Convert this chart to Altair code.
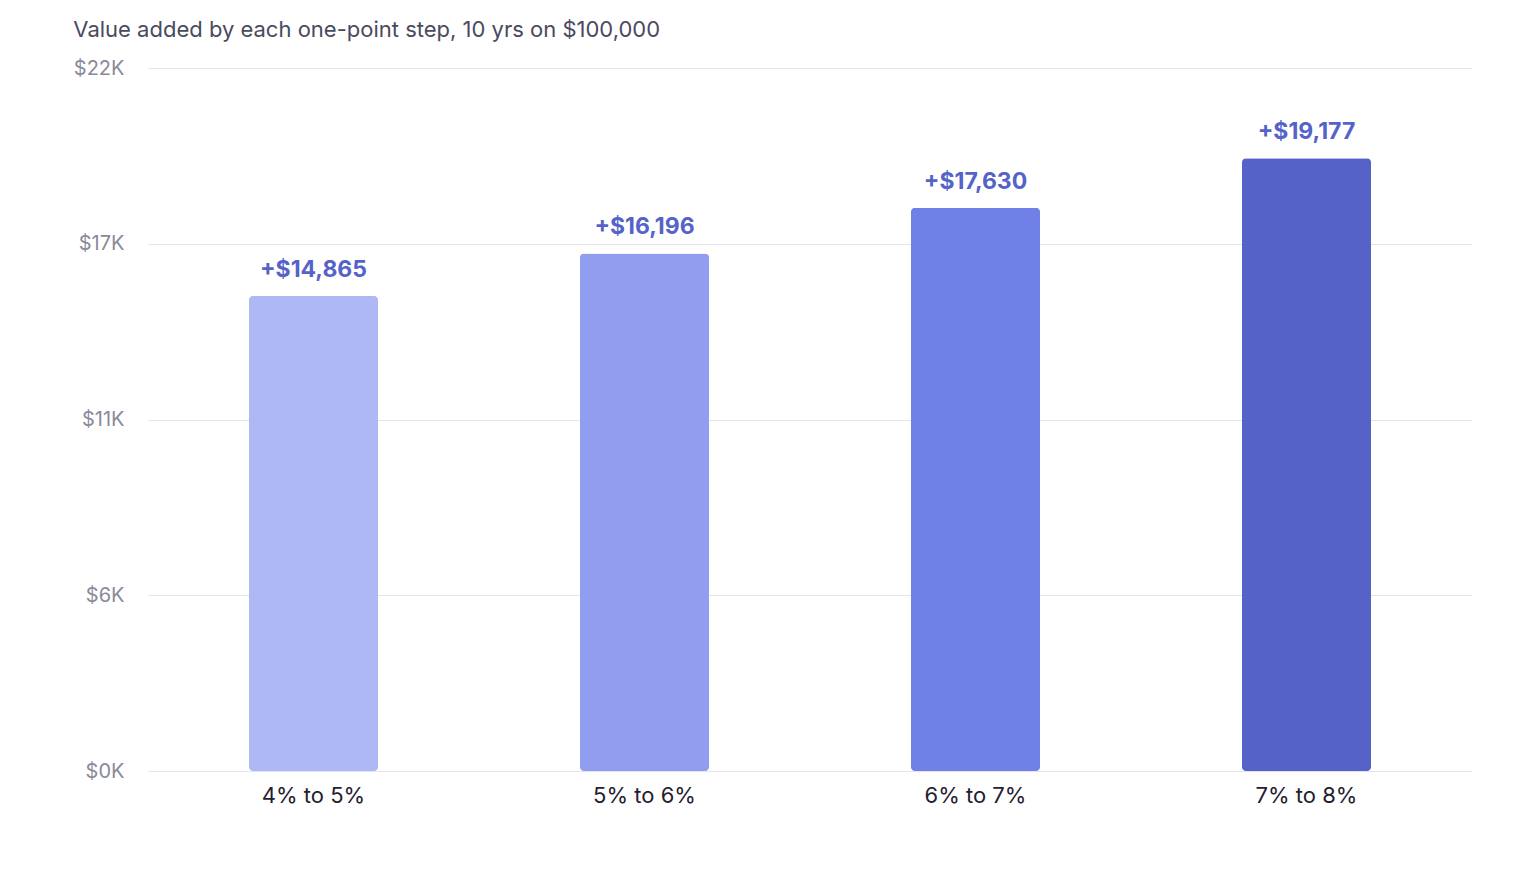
import altair as alt
import pandas as pd

steps = ["4% to 5%", "5% to 6%", "6% to 7%", "7% to 8%"]
gains = [14865, 16196, 17630, 19177]
labels = ["+$14,865", "+$16,196", "+$17,630", "+$19,177"]
colors = ["#aeb8f5", "#919ef0", "#6f80e6", "#5563c8"]

df = pd.DataFrame({"step": steps, "gain": gains, "label": labels, "color": colors})

base = alt.Chart(df).encode(
    x=alt.X("step:N", sort=steps, title=None,
            scale=alt.Scale(paddingInner=0.61, paddingOuter=0.305),
            axis=alt.Axis(labelAngle=0, labelFontSize=22, labelColor="#1f2030",
                          labelPadding=14, ticks=False, domain=False, grid=False)),
    y=alt.Y("gain:Q", title=None,
            scale=alt.Scale(domain=[0, 22000], nice=False),
            axis=alt.Axis(values=[0, 5500, 11000, 16500, 22000], format="$.0s",
                          labelExpr="'$' + round(datum.value/1000) + 'K'",
                          labelFontSize=20, labelColor="#8a8a9a", labelPadding=24,
                          ticks=False, domain=False, gridColor="#e4e4ea")),
)

bars = base.mark_bar(cornerRadius=4).encode(color=alt.Color("color:N", scale=None))
text = base.mark_text(dy=-14, fontSize=23, fontWeight="bold", color="#5563c8",
                      baseline="bottom").encode(text="label:N")

chart = (bars + text).properties(
    width=1324, height=703,
    title=alt.TitleParams("Value added by each one-point step, 10 yrs on $100,000",
                          anchor="start", fontSize=22, fontWeight="normal",
                          color="#4a4a5e", offset=16),
    autosize=alt.AutoSizeParams(type="none"),
    padding={"left": 140, "top": 60, "right": 40, "bottom": 100},
).configure(font="Inter").configure_view(stroke=None)

chart.save("out.html", embed_options={"renderer": "svg", "actions": False})
